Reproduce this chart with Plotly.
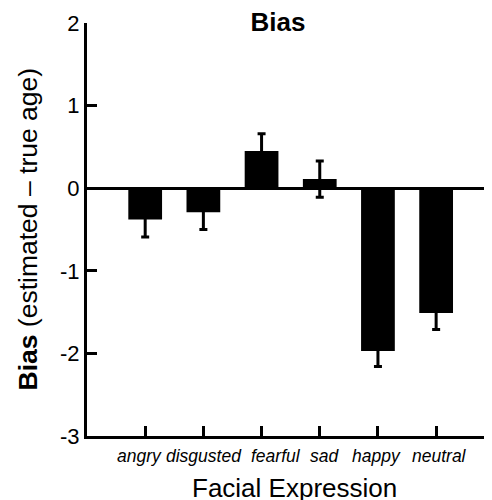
import plotly.graph_objects as go

categories = ["angry", "disgusted", "fearful", "sad", "happy", "neutral"]
bias = [-0.38, -0.29, 0.45, 0.11, -1.97, -1.51]
sem = [0.21, 0.21, 0.21, 0.22, 0.19, 0.20]
y_ticks = [-3, -2, -1, 0, 1, 2]

# style: horizontal nudge (in category units) of each hand-placed category label
label_nudge = [-0.10, 0.01, 0.24, 0.08, -0.02, 0.06]

FONT = "Arial, Liberation Sans, sans-serif"
OFF = 8  # default page body margin
W, H = 492 - OFF, 500 - OFF
L, T, B = 87 - OFF, 23 - OFF, 64
PW, PH = W - L, H - T - B

xpos = list(range(len(categories)))

fig = go.Figure()
fig.add_trace(go.Bar(
    x=xpos,
    y=bias,
    width=0.58,
    marker=dict(color="black", line=dict(width=0)),
    error_y=dict(type="data", array=sem, visible=True, color="black",
                 thickness=3, width=4),
    showlegend=False,
))

annotations = [
    dict(text="Facial Expression", xref="paper", yref="paper",
         x=(294 - 87) / PW, y=-(488 - 436) / PH, xanchor="center", yanchor="middle",
         showarrow=False, font=dict(size=26, family=FONT, color="black")),
    dict(text="<b>Bias</b> (estimated – true age)", xref="paper", yref="paper",
         x=-(87 - 27) / PW, y=(436 - 229.5) / PH, xanchor="center", yanchor="middle",
         textangle=-90, showarrow=False, font=dict(size=26.5, family=FONT, color="black")),
]
for i, c in enumerate(categories):
    annotations.append(dict(
        text="<i>%s</i>" % c, xref="x", yref="paper",
        x=xpos[i] + label_nudge[i], y=-(456 - 436) / PH,
        xanchor="center", yanchor="middle", showarrow=False,
        font=dict(size=17.5, family=FONT, color="black")))

fig.update_layout(
    width=W, height=H,
    margin=dict(l=L, r=0, t=T, b=B, pad=0),
    plot_bgcolor="white", paper_bgcolor="white",
    font=dict(family=FONT, color="black"),
    title=dict(text="<b>Bias</b>", font=dict(size=26, family=FONT, color="black"),
               x=(278 - 87) / PW, xref="paper", xanchor="center",
               y=1 - (22 - OFF) / H, yref="container", yanchor="middle"),
    annotations=annotations,
)

fig.update_xaxes(
    range=[-1, 5.96],
    tickmode="array",
    tickvals=xpos,
    showticklabels=False,
    ticks="inside", ticklen=10, tickwidth=3, tickcolor="black",
    showline=True, linecolor="black", linewidth=3,
    showgrid=False, zeroline=False, automargin=False,
)

fig.update_yaxes(
    range=[-3, 2],
    tickmode="array",
    tickvals=y_ticks,
    ticktext=[str(v) for v in y_ticks],
    tickfont=dict(size=22, family=FONT),
    ticks="inside", ticklen=10, tickwidth=3, tickcolor="black",
    showline=True, linecolor="black", linewidth=3,
    showgrid=False, automargin=False,
    zeroline=True, zerolinecolor="black", zerolinewidth=3,
)

fig.write_html("out.html")
